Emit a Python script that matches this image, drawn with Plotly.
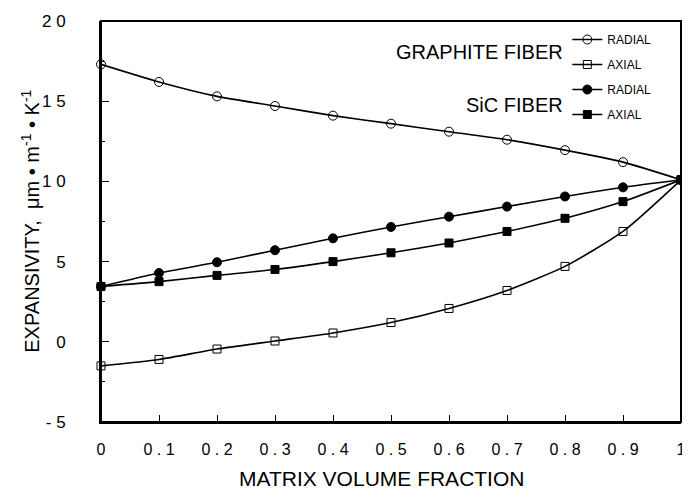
import plotly.graph_objects as go

x_vals = [0, 0.1, 0.2, 0.3, 0.4, 0.5, 0.6, 0.7, 0.8, 0.9, 1.0]
graphite_radial = [17.3, 16.2, 15.3, 14.7, 14.1, 13.6, 13.1, 12.6, 11.95, 11.2, 10.1]
graphite_axial = [-1.5, -1.1, -0.45, 0.05, 0.55, 1.2, 2.08, 3.2, 4.7, 6.88, 10.1]
sic_radial = [3.45, 4.29, 4.96, 5.71, 6.45, 7.16, 7.8, 8.43, 9.06, 9.63, 10.1]
sic_axial = [3.45, 3.75, 4.14, 4.51, 5.0, 5.55, 6.16, 6.88, 7.7, 8.74, 10.1]

x_ticks = [0, 0.1, 0.2, 0.3, 0.4, 0.5, 0.6, 0.7, 0.8, 0.9, 1]
x_ticktext = ["0", "0 . 1", "0 . 2", "0 . 3", "0 . 4", "0 . 5", "0 . 6", "0 . 7", "0 . 8", "0 . 9", "1"]
y_ticks = [-5, 0, 5, 10, 15, 20]
y_ticktext = ["- 5", "0", "5", "1 0", "1 5", "2 0"]

FONT = "Liberation Sans, Arial, sans-serif"

fig = go.Figure()

series = [
    ("RADIAL", graphite_radial, "circle-open", 9, "g1"),
    ("AXIAL", graphite_axial, "square-open", 8, "g2"),
    ("RADIAL", sic_radial, "circle", 9, "g3"),
    ("AXIAL", sic_axial, "square", 8, "g4"),
]
for name, yv, sym, size, grp in series:
    fig.add_trace(go.Scatter(
        x=x_vals, y=yv, name=name, mode="lines+markers",
        legendgroup=grp, cliponaxis=False,
        line=dict(color="black", width=1.6, shape="spline", smoothing=0.6),
        marker=dict(symbol=sym, size=size, color="black",
                    line=dict(color="black", width=1)),
    ))

fig.add_annotation(text="GRAPHITE FIBER", x=0.80, y=0.922, xref="paper", yref="paper",
                   xanchor="right", yanchor="middle", showarrow=False,
                   font=dict(family=FONT, size=20, color="black"))
fig.add_annotation(text="SiC FIBER", x=0.80, y=0.79, xref="paper", yref="paper",
                   xanchor="right", yanchor="middle", showarrow=False,
                   font=dict(family=FONT, size=20, color="black"))
fig.add_annotation(text="EXPANSIVITY,  \u03bcm \u2022 m<sup>-1</sup> \u2022 K<sup>-1</sup>",
                   x=-0.122, y=0.5, xref="paper", yref="paper", textangle=-90,
                   xanchor="center", yanchor="middle", showarrow=False,
                   font=dict(family=FONT, size=20, color="black"))
fig.add_annotation(text="MATRIX VOLUME FRACTION",
                   x=0.484, y=-0.14, xref="paper", yref="paper",
                   xanchor="center", yanchor="middle", showarrow=False,
                   font=dict(family=FONT, size=21, color="black"))

fig.add_shape(type="rect", xref="paper", yref="paper", x0=0, y0=0, x1=1, y1=1,
              line=dict(color="black", width=2), fillcolor="rgba(0,0,0,0)", layer="above")

# the page body has an 8px margin; size the figure so the plot box lands at
# x 101..686, y 14..422 of the window
fig.update_layout(
    width=682, height=482,
    margin=dict(l=93, r=4, t=6, b=68),
    paper_bgcolor="white", plot_bgcolor="white",
    font=dict(family=FONT, color="black"),
    showlegend=True,
    legend=dict(x=0.804, y=0.99, xanchor="left", yanchor="top",
                bgcolor="rgba(0,0,0,0)", font=dict(size=12, family=FONT),
                tracegroupgap=6, itemwidth=30),
    xaxis=dict(range=[0, 1], tickvals=x_ticks, ticktext=x_ticktext,
               showgrid=False, zeroline=False, showline=True, linecolor="black",
               linewidth=2, ticks="inside", ticklen=7, tickcolor="black",
               tickfont=dict(size=16, family=FONT), ticklabelstandoff=12,
               ticklabeloverflow="allow"),
    yaxis=dict(range=[-5, 20], tickvals=y_ticks, ticktext=y_ticktext,
               showgrid=False, zeroline=False, showline=True, linecolor="black",
               linewidth=2, ticks="inside", ticklen=8, tickcolor="black",
               tickfont=dict(size=17, family=FONT), ticklabelstandoff=30,
               ticklabeloverflow="allow",
               minor=dict(tickvals=[-2.5, 2.5, 7.5, 12.5, 17.5], ticks="inside", ticklen=4,
                          tickcolor="black", showgrid=False)),
)

fig.write_html("out.html")
